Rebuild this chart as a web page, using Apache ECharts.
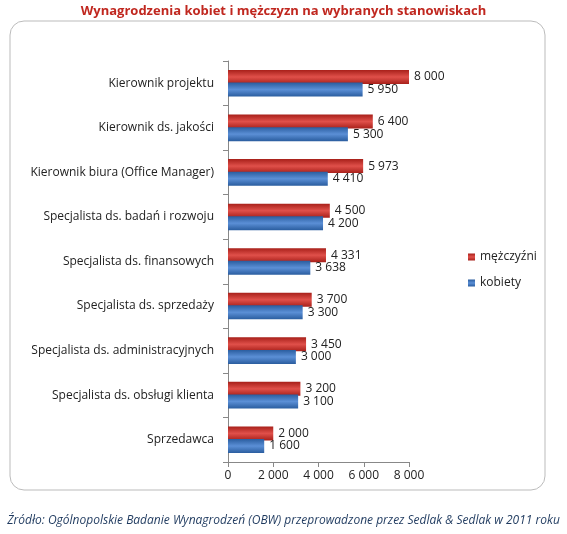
<!DOCTYPE html>
<html><head><meta charset="utf-8">
<script src="https://cdn.jsdelivr.net/npm/echarts@6/dist/echarts.min.js"></script>
<style>html,body{margin:0;padding:0;background:#fff}#c{width:567px;height:534px}</style>
</head><body><div id="c"></div>
<script>
const categories=["Kierownik projektu","Kierownik ds. jakości","Kierownik biura (Office Manager)","Specjalista ds. badań i rozwoju","Specjalista ds. finansowych","Specjalista ds. sprzedaży","Specjalista ds. administracyjnych","Specjalista ds. obsługi klienta","Sprzedawca"];
const men=[8000,6400,5973,4500,4331,3700,3450,3200,2000];
const women=[5950,5300,4410,4200,3638,3300,3000,3100,1600];
const xTicks=[0,2000,4000,6000,8000];
const fmt=v=>String(v).replace(/\B(?=(\d{3})+(?!\d))/g,' ');
const grad=(a,b)=>new echarts.graphic.LinearGradient(0,0,0,1,[{offset:0,color:a},{offset:0.5,color:b},{offset:1,color:a}]);
const chart=echarts.init(document.getElementById('c'));
chart.setOption({
 animation:false,
 title:{text:'Wynagrodzenia kobiet i mężczyzn na wybranych stanowiskach',left:'center',top:0,textStyle:{color:'#c0271f',fontSize:13,fontWeight:'bold',fontFamily:'Open Sans'}},
 graphic:[
  {type:'rect',shape:{x:10,y:21,width:535,height:469,r:14},style:{fill:'none',stroke:'#bbb',lineWidth:1}},
  {type:'text',left:'center',top:515,style:{text:'Źródło: Ogólnopolskie Badanie Wynagrodzeń (OBW) przeprowadzone przez Sedlak & Sedlak w 2011 roku',fill:'#1f3a5f',font:'italic 12px "Open Sans"'}}
 ],
 legend:{orient:'vertical',left:463,top:246,itemWidth:7,itemHeight:7,itemGap:14,icon:'rect',textStyle:{fontSize:12,color:'#222',fontFamily:'Open Sans'},data:['mężczyźni','kobiety']},
 grid:{left:228,right:158,top:61,bottom:72,containLabel:false},
 xAxis:{type:'value',min:0,max:8000,interval:2000,splitLine:{show:false},axisLine:{show:true,lineStyle:{color:'#888'}},axisTick:{show:true,lineStyle:{color:'#888'}},axisLabel:{color:'#222',fontSize:12,fontFamily:'Open Sans',formatter:v=>fmt(v)}},
 yAxis:{type:'category',data:categories,inverse:true,axisLine:{lineStyle:{color:'#888'}},axisTick:{show:true,lineStyle:{color:'#888'}},axisLabel:{color:'#222',fontSize:12,fontFamily:'Open Sans',margin:14}},
 series:[
  {name:'mężczyźni',type:'bar',data:men,barWidth:14,barGap:'-10%',itemStyle:{color:grad('#a8201a','#e0504a')},label:{show:true,position:'right',fontSize:12,color:'#222',fontFamily:'Open Sans',formatter:p=>fmt(p.value)}},
  {name:'kobiety',type:'bar',data:women,barWidth:14,itemStyle:{color:grad('#2a5d9f','#5b8fd6')},label:{show:true,position:'right',fontSize:12,color:'#222',fontFamily:'Open Sans',formatter:p=>fmt(p.value)}}
 ]
});
</script></body></html>
